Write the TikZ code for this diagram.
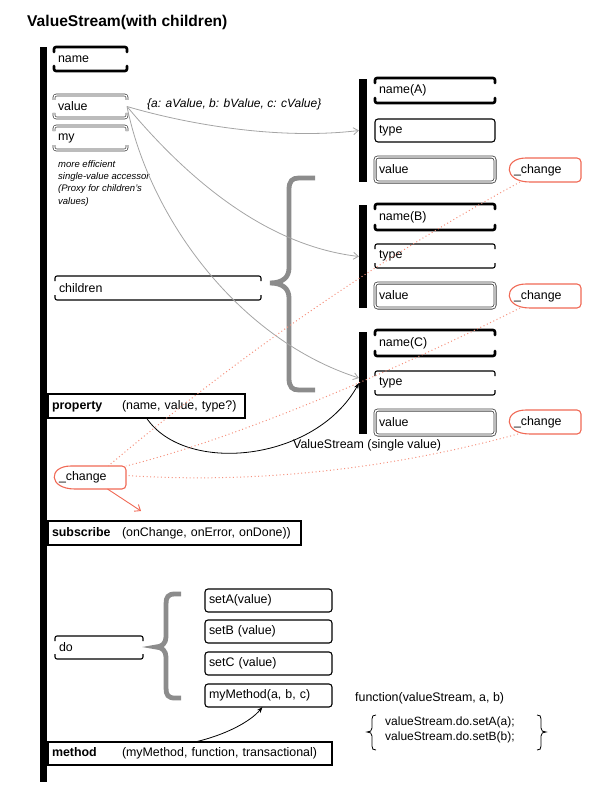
\documentclass[tikz,border=0pt]{standalone}
\usepackage{fontspec}
\setmainfont{Liberation Sans}
\usetikzlibrary{arrows.meta,calc}
\definecolor{chgred}{RGB}{240,105,85}
\definecolor{chgdot}{RGB}{245,145,125}
\definecolor{bracegray}{RGB}{140,140,140}
\definecolor{arrgray}{RGB}{165,165,165}
% bracket-style box edges: #1 node, #2 style, #3 tick length
\newcommand\brk[3]{%
  \draw[#2] ([yshift=-#3]#1.north west) -- (#1.north west) -- (#1.north east) -- ([yshift=-#3]#1.north east);
  \draw[#2] ([yshift=#3]#1.south west) -- (#1.south west) -- (#1.south east) -- ([yshift=#3]#1.south east);}
% _change outline
\newcommand\chgshape[1]{%
  \draw[chgline] (#1.east) [rounded corners=4pt] -- (#1.north east) -- ([xshift=20pt]#1.north west) [sharp corners]
    .. controls ([xshift=-7pt]#1.north west) and ([xshift=-7pt]#1.south west) .. ([xshift=20pt]#1.south west)
    [rounded corners=4pt] -- (#1.south east) -- (#1.east);}
\begin{document}
\begin{tikzpicture}[x=1pt,y=-1pt,font=\fontsize{12.4}{14.5}\selectfont,
  bx/.style={anchor=north west, inner xsep=4pt, inner ysep=0pt, outer sep=0pt, align=left},
  bar/.style={fill=black, minimum width=8pt, inner sep=0pt, outer sep=0pt},
  plainbox/.style={bx, draw, line width=1.1pt},
  rbox/.style={bx, draw, line width=1.1pt, rounded corners=3pt},
  dbox/.style={bx, draw=black!75, double=white, double distance=1.4pt, line width=0.8pt, rounded corners=3pt},
  thickbr/.style={line width=2.6pt, rounded corners=2pt, line cap=round},
  thinbr/.style={line width=1.1pt, rounded corners=2pt},
  dblbr/.style={draw=black!75, double=white, double distance=1.3pt, line width=0.7pt, rounded corners=2.5pt},
  chgline/.style={draw=chgred, line width=1.1pt},
  chgdots/.style={draw=chgdot, line width=1pt, dash pattern=on 1pt off 2.6pt},
  grayarr/.style={draw=arrgray, line width=0.8pt, -{Straight Barb[length=5pt,width=7pt]}},
  blackarr/.style={draw=black, line width=0.8pt, -{Stealth[length=6pt,width=4.5pt]}},
  bracestyle/.style={draw=bracegray, line width=4.8pt}]
\useasboundingbox (0,0) rectangle (600,797);

% title
\node[anchor=west, font=\bfseries\fontsize{15.6}{18}\selectfont, inner sep=0pt] (title) at (27,22) {ValueStream(with children)};

% main bar
\node[bar, minimum width=7.5pt, minimum height=735pt] (mainbar) at (43.5,414.5) {};

% left column
\node[bx, text width=65pt, minimum height=24pt] (name) at (54,47) {name};
\node[bx, text width=65pt, minimum height=23pt] (valueL) at (54,95) {value};
\node[bx, text width=65pt, minimum height=24pt] (my) at (54,126) {my};
\brk{name}{thickbr}{5pt}
\brk{valueL}{dblbr}{5pt}
\brk{my}{dblbr}{5pt}

\node[anchor=north west, inner sep=0pt, align=left, font=\itshape\fontsize{9.5}{12.4}\selectfont] (note) at (58,160)
  {more efficient\\single-value accessor\\(Proxy for children’s\\values)};

\node[anchor=west, inner sep=0pt, font=\itshape\fontsize{12}{14}\selectfont] (objlbl) at (147,104) {\{a: aValue, b: bValue, c: cValue\}};

\node[bx, text width=198pt, minimum height=24pt] (children) at (55,276) {children};
\brk{children}{thinbr}{5pt}

\node[plainbox, text width=189pt, minimum height=24pt] (property) at (48,394)
  {\makebox[70pt][l]{\textbf{property}}(name, value, type?)};

\node[bx, text width=63pt, minimum height=23pt] (chL) at (55,466) {\_change};
\chgshape{chL}

\node[plainbox, text width=245pt, minimum height=24pt] (subscribe) at (48,521)
  {\makebox[70pt][l]{\textbf{subscribe}}(onChange, onError, onDone))};

\node[bx, text width=80pt, minimum height=23pt] (doN) at (55,636) {do};
\brk{doN}{thinbr}{5pt}

\node[rbox, text width=119pt, minimum height=23pt] (setA) at (205,589) {setA(value)};
\node[rbox, text width=119pt, minimum height=23pt] (setB) at (205,620) {setB (value)};
\node[rbox, text width=119pt, minimum height=23pt] (setC) at (205,652) {setC (value)};
\node[rbox, text width=119pt, minimum height=23pt] (mym) at (205,684) {myMethod(a, b, c)};

\node[plainbox, text width=276pt, minimum height=23pt] (method) at (48,742)
  {\makebox[70pt][l]{\textbf{method}}(myMethod, function, transactional)};

% braces
\draw[bracestyle] (315,178) -- (299,178) .. controls (292,178) and (289,181) .. (289,190) -- (289,268)
  .. controls (289,277) and (283,283) .. (270,283) .. controls (283,283) and (289,289) .. (289,298)
  -- (289,378) .. controls (289,387) and (292,390) .. (299,390) -- (315,390);
\draw[bracestyle] (181,594) -- (175,594) .. controls (168,594) and (166,597) .. (166,604) -- (166,637)
  .. controls (166,643) and (162,647) .. (156,647) .. controls (162,647) and (166,651) .. (166,657)
  -- (166,688) .. controls (166,695) and (168,698) .. (175,698) -- (181,698);

% right groups
\node[bar, minimum height=103pt] (barA) at (363,130.5) {};
\node[bar, minimum height=103pt] (barB) at (363,256.5) {};
\node[bar, minimum height=102pt] (barC) at (363,383) {};

\node[bx, text width=112pt, minimum height=25pt] (nameA) at (375,78) {name(A)};
\node[rbox, text width=112pt, minimum height=23pt] (typeA) at (375,119) {type};
\node[dbox, text width=112pt, minimum height=25pt] (valueA) at (375,157) {value};
\brk{nameA}{thickbr}{5pt}

\node[bx, text width=112pt, minimum height=26pt] (nameB) at (375,204) {name(B)};
\node[bx, text width=112pt, minimum height=24pt] (typeB) at (375,244) {type};
\node[dbox, text width=112pt, minimum height=25pt] (valueB) at (375,283) {value};
\brk{nameB}{thickbr}{5pt}
\brk{typeB}{thinbr}{5pt}

\node[bx, text width=112pt, minimum height=26pt] (nameC) at (375,330) {name(C)};
\node[bx, text width=112pt, minimum height=24pt] (typeC) at (375,371) {type};
\node[dbox, text width=112pt, minimum height=25pt] (valueC) at (375,410) {value};
\brk{nameC}{thickbr}{5pt}
\brk{typeC}{thinbr}{5pt}

\node[bx, text width=63pt, minimum height=24pt] (chA) at (510,158) {\_change};
\node[bx, text width=63pt, minimum height=24pt] (chB) at (510,284) {\_change};
\node[bx, text width=63pt, minimum height=24pt] (chC) at (510,410) {\_change};
\chgshape{chA}
\chgshape{chB}
\chgshape{chC}

% gray arrows from value
\draw[grayarr] (valueL.east) .. controls (190,125) and (280,140) .. (barA.west);
\draw[grayarr] (valueL.east) .. controls (180,170) and (260,245) .. (barB.west);
\draw[grayarr] (valueL.east) .. controls (150,220) and (240,340) .. ([yshift=5pt]barC.west);

% black arrow property -> C
\draw[blackarr] (property.south) .. controls (185,475) and (315,462) .. (barC.west);
\node[anchor=west, inner sep=0pt] (vslbl) at (293,445) {ValueStream (single value)};

% dotted change links
\draw[chgdots] ([xshift=10pt]chA.south west) .. controls +(-147,80) and +(128,-108) .. ($(chL.north)!0.5!(chL.north east)$);
\draw[chgdots] ([xshift=10pt]chB.south west) .. controls +(-110,55) and +(120,-30) .. (chL.north east);
\draw[chgdots] ([xshift=8pt]chC.south west) .. controls (389,469) and (258,484) .. ([yshift=2pt]chL.east);

% red arrow
\coordinate (chArrEnd) at (141,511);
\draw[draw=chgred, line width=0.9pt, -{Straight Barb[length=5pt,width=8pt]}] ([xshift=17pt]chL.south) -- (chArrEnd);

% method arrow
\draw[blackarr] ([xshift=5pt]method.north) .. controls (225,735) and (250,722) .. ([xshift=-6pt]mym.south);

% function text
\node[anchor=west, inner sep=0pt] (fn) at (355,698) {function(valueStream, a, b)};
\node[anchor=west, inner sep=0pt, align=left, font=\fontsize{12}{15}\selectfont] (code) at (385,729.5)
  {valueStream.do.setA(a);\\valueStream.do.setB(b);};
\draw[line width=0.8pt] (376,715) .. controls (373,715) and (372,716) .. (372,719) -- (372,728)
  .. controls (372,731) and (370,732) .. (367,732) .. controls (370,732) and (372,733) .. (372,736)
  -- (372,746) .. controls (372,749) and (373,750) .. (376,750);
\draw[line width=0.8pt] (537,715) .. controls (540,715) and (541,716) .. (541,719) -- (541,728)
  .. controls (541,731) and (543,732) .. (546,732) .. controls (543,732) and (541,733) .. (541,736)
  -- (541,746) .. controls (541,749) and (540,750) .. (537,750);
\end{tikzpicture}
\end{document}
